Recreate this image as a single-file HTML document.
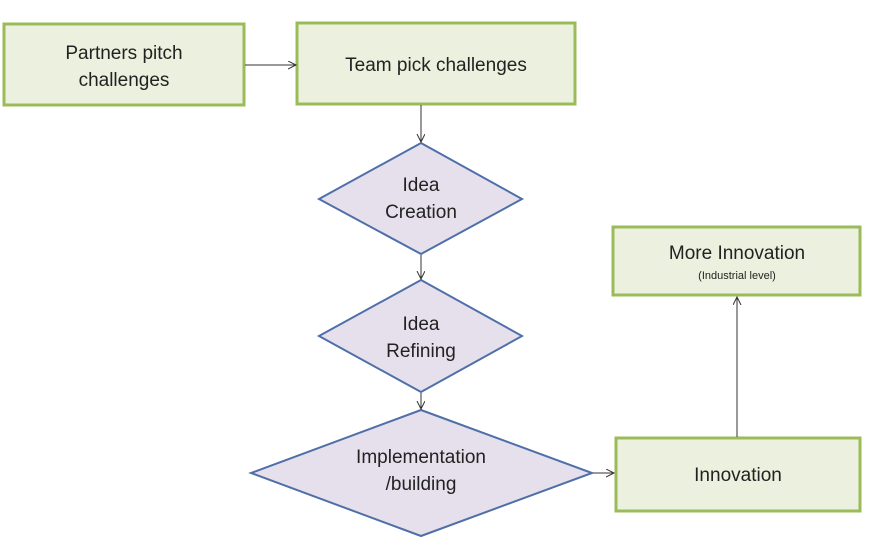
<!DOCTYPE html>
<html><head><style>body{margin:0;background:#fff}</style></head><body>
<svg width="880" height="538" xmlns="http://www.w3.org/2000/svg" font-family="Liberation Sans, sans-serif" fill="#222">
<defs><marker id="a" markerWidth="10" markerHeight="10" refX="8" refY="4" orient="auto" markerUnits="userSpaceOnUse"><path d="M0,0 L8,4 L0,8" fill="none" stroke="#333" stroke-width="1"/></marker></defs>
<g fill="#ebf1de" stroke="#9bbb59" stroke-width="3">
<rect x="4" y="24" width="240" height="81"/>
<rect x="297" y="23" width="278" height="81"/>
<rect x="613" y="227" width="247" height="68"/>
<rect x="616" y="438" width="244" height="73"/>
</g>
<g fill="#e6e0ec" stroke="#4f6fa8" stroke-width="2">
<polygon points="421,143 522,199 421,254 319,199"/>
<polygon points="421,280 522,336 421,392 319,336"/>
<polygon points="421,410 592,473 421,536 251,473"/>
</g>
<g stroke="#333" stroke-width="1" fill="none" marker-end="url(#a)">
<line x1="245" y1="65" x2="296" y2="65"/>
<line x1="421" y1="105" x2="421" y2="142"/>
<line x1="421" y1="255" x2="421" y2="279"/>
<line x1="421" y1="393" x2="421" y2="409"/>
<line x1="593" y1="473" x2="614" y2="473"/>
<line x1="737" y1="437" x2="737" y2="297"/>
</g>
<g font-size="19" text-anchor="middle">
<text x="124" y="59">Partners pitch</text><text x="124" y="86">challenges</text>
<text x="436" y="71">Team pick challenges</text>
<text x="421" y="191">Idea</text><text x="421" y="218">Creation</text>
<text x="421" y="330">Idea</text><text x="421" y="357">Refining</text>
<text x="421" y="463">Implementation</text><text x="421" y="490">/building</text>
<text x="737" y="259">More Innovation</text>
<text x="738" y="481">Innovation</text>
<text x="737" y="279" font-size="11">(Industrial level)</text>
</g>
</svg>
</body></html>
